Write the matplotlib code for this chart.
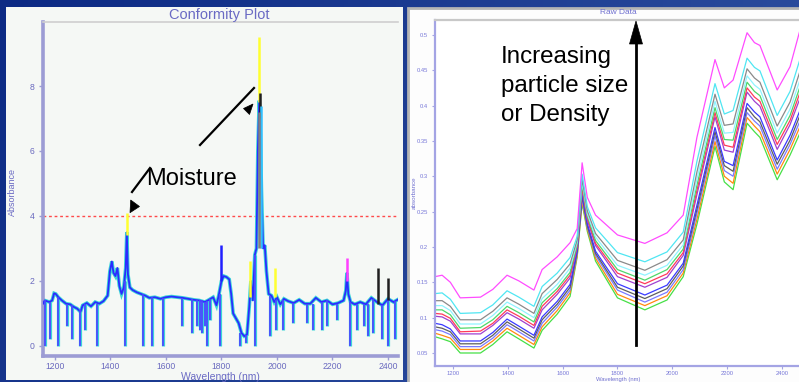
import matplotlib
matplotlib.use("Agg")
import matplotlib.pyplot as plt
import numpy as np
from matplotlib.patches import Rectangle, Polygon
from matplotlib.lines import Line2D

plt.rcParams['font.family'] = ['Liberation Sans', 'DejaVu Sans']

# ---------------- data: left panel (Conformity Plot) ----------------
conf_wl = [1157, 1163, 1170, 1180, 1190, 1197, 1203, 1212, 1225, 1240, 1255, 1268, 1280, 1292,
           1300, 1315, 1330, 1345, 1360, 1375, 1390, 1398, 1405, 1411, 1418, 1425, 1432, 1440,
           1448, 1455, 1459, 1463, 1470, 1480, 1495, 1510, 1525, 1540, 1560, 1580, 1600, 1620,
           1640, 1660, 1680, 1700, 1720, 1740, 1755, 1770, 1782, 1790, 1800, 1808, 1818, 1828,
           1835, 1842, 1852, 1862, 1872, 1882, 1892, 1900, 1906, 1913, 1920, 1926, 1931, 1936,
           1940, 1944, 1950, 1956, 1962, 1970, 1980, 1990, 2000, 2012, 2025, 2040, 2060, 2080,
           2100, 2120, 2140, 2160, 2180, 2200, 2220, 2240, 2248, 2252, 2257, 2265, 2280, 2300,
           2320, 2340, 2360, 2380, 2400, 2420, 2440]
conf_abs = [1.30, 1.40, 1.38, 1.35, 1.40, 1.62, 1.60, 1.50, 1.40, 1.30, 1.28, 1.20, 1.15, 1.05,
            1.25, 1.32, 1.22, 1.35, 1.30, 1.38, 1.55, 2.30, 2.60, 2.25, 2.15, 2.40, 1.85, 1.60,
            1.80, 2.40, 3.50, 2.20, 1.80, 1.72, 1.65, 1.60, 1.55, 1.48, 1.50, 1.45, 1.50, 1.52,
            1.50, 1.48, 1.45, 1.42, 1.40, 1.35, 1.42, 1.50, 1.25, 1.55, 2.00, 2.15, 2.12, 2.05,
            1.60, 1.00, 0.85, 0.70, 0.40, 0.30, 0.35, 1.20, 2.00, 1.40, 2.80, 3.00, 6.00, 7.55,
            6.50, 4.80, 3.00, 3.10, 2.30, 1.60, 1.55, 1.35, 1.50, 1.28, 1.45, 1.38, 1.32, 1.42,
            1.30, 1.30, 1.48, 1.35, 1.40, 1.28, 1.32, 1.40, 1.70, 2.25, 1.60, 1.35, 1.28, 1.35,
            1.28, 1.48, 1.35, 1.25, 1.45, 1.35, 1.45]

spike_wl = [1164, 1182, 1211, 1245, 1262, 1290, 1308, 1351, 1452, 1517,
            1550, 1589, 1658, 1694, 1712, 1723, 1731, 1740, 1748, 1760,
            1795, 1867, 1888, 1921, 1976, 1995, 2022, 2058, 2108, 2130,
            2162, 2180, 2215, 2263, 2290, 2312, 2328, 2345, 2380, 2400, 2425]
spike_lo = [0.0, 0.2, 0.0, 0.6, 0.2, 0.0, 0.5, 0.0, 0.0, 0.0,
            0.0, 0.0, 0.6, 0.4, 0.6, 0.5, 0.4, 0.6, 0.0, 0.8,
            0.0, 0.0, 0.1, 0.0, 0.3, 0.5, 0.5, 0.7, 0.7, 0.5,
            0.5, 0.6, 0.8, 0.0, 0.5, 0.6, 0.3, 0.4, 0.2, 0.0, 0.2]
spike_hi = [1.40, 1.36, 1.50, 1.30, 1.25, 1.10, 1.30, 1.30, 2.00, 1.60,
            1.50, 1.48, 1.48, 1.45, 1.42, 1.41, 1.40, 1.35, 1.38, 1.45,
            1.60, 0.40, 0.35, 2.80, 1.55, 1.40, 1.40, 1.32, 1.30, 1.30,
            1.35, 1.40, 1.30, 1.35, 1.30, 1.30, 1.30, 1.45, 1.25, 1.45, 1.38]

# coloured sample tips poking out of the bundle
tip_wl = [1459, 1937, 1939, 1797, 1903, 1993, 2252, 2364, 2400, 1941, 1934]
tip_lo = [3.40, 7.50, 7.00, 2.00, 1.50, 1.50, 2.00, 1.30, 1.40, 3.00, 3.00]
tip_hi = [4.10, 9.50, 7.80, 3.10, 2.60, 2.40, 2.70, 2.40, 2.10, 7.40, 7.20]
tip_col = ['#ffff30', '#ffff30', '#202020', '#2020ff', '#ffff30', '#ffff30',
           '#ff40ff', '#202020', '#202020', '#30c0ff', '#808080']

threshold = 4.0

# ---------------- data: right panel (Raw Data) ----------------
raw_wl = [1134, 1160, 1190, 1226, 1300, 1345, 1397, 1440, 1495, 1525, 1580, 1627, 1653, 1671, 1690,
          1720, 1800, 1900, 1981, 2040, 2090, 2156, 2190, 2222, 2273, 2300, 2320, 2383, 2430, 2465]
raw_magenta = [.158, .160, .150, .128, .129, .140, .160, .152, .139, .168, .186, .206, .226, .319, .270,
               .245, .217, .205, .220, .245, .355, .465, .425, .436, .503, .489, .485, .422, .455, .505]
raw_cyan = [.134, .135, .126, .106, .107, .118, .138, .129, .116, .144, .163, .185, .215, .303, .257,
            .227, .192, .179, .193, .221, .321, .431, .388, .393, .467, .454, .449, .386, .420, .464]
raw_gray = [.124, .124, .116, .097, .097, .109, .128, .119, .106, .134, .154, .176, .210, .296, .251,
            .219, .181, .167, .182, .210, .306, .416, .372, .374, .452, .439, .433, .371, .405, .447]
raw_ltcyan = [.117, .117, .110, .091, .091, .103, .122, .113, .100, .127, .147, .170, .207, .292, .247,
              .214, .174, .160, .174, .203, .296, .406, .361, .362, .442, .429, .423, .361, .395, .435]
raw_green2 = [.111, .111, .104, .085, .086, .097, .116, .107, .094, .121, .141, .164, .204, .288, .244,
              .209, .168, .153, .168, .197, .287, .397, .352, .351, .433, .420, .414, .352, .386, .425]
raw_red = [.106, .105, .099, .080, .081, .092, .111, .102, .089, .116, .137, .160, .202, .284, .241,
           .205, .163, .148, .162, .192, .280, .390, .344, .341, .425, .412, .406, .345, .379, .417]
raw_purple = [.102, .101, .095, .077, .077, .089, .107, .098, .085, .111, .133, .156, .200, .281, .238,
              .202, .158, .143, .157, .188, .274, .384, .337, .334, .419, .406, .399, .338, .373, .409]
raw_blue = [.092, .090, .084, .067, .067, .079, .098, .088, .075, .101, .123, .147, .195, .275, .233,
            .194, .148, .132, .146, .177, .259, .369, .321, .315, .403, .391, .384, .323, .358, .392]
raw_dkgray = [.087, .085, .080, .063, .063, .075, .094, .084, .071, .097, .119, .143, .193, .272, .230,
              .191, .143, .127, .141, .173, .253, .363, .315, .307, .397, .384, .377, .317, .351, .385]
raw_slate = [.083, .081, .076, .059, .059, .071, .090, .080, .067, .092, .115, .139, .191, .269, .228,
             .188, .139, .122, .136, .168, .247, .357, .308, .300, .390, .378, .371, .310, .345, .377]
raw_orange = [.078, .075, .071, .055, .055, .067, .085, .075, .062, .087, .110, .135, .188, .265, .225,
              .184, .133, .117, .131, .163, .239, .349, .300, .290, .383, .371, .363, .303, .338, .369]
raw_green = [.073, .070, .066, .050, .050, .062, .080, .070, .057, .082, .105, .130, .186, .262, .222,
             .180, .128, .111, .125, .158, .232, .342, .292, .281, .375, .363, .355, .295, .330, .360]

raw_series = [raw_magenta, raw_cyan, raw_gray, raw_ltcyan, raw_green2, raw_red, raw_purple,
              raw_blue, raw_dkgray, raw_slate, raw_orange, raw_green]
raw_colors = ['#ff4cff', '#4fe6f2', '#8a8a8a', '#8ff4ff', '#4ed86a', '#ff3a5a', '#a040d0',
              '#3a3aff', '#5e5e5e', '#7a7aff', '#ff8a10', '#46e046']

left_xticks = [1200, 1400, 1600, 1800, 2000, 2200, 2400]
left_yticks = [0, 2, 4, 6, 8]
right_xticks = [1200, 1400, 1600, 1800, 2000, 2200, 2400]
right_yticks = [0.05, 0.1, 0.15, 0.2, 0.25, 0.3, 0.35, 0.4, 0.45, 0.5]
right_ytick_labels = ['0.05', '0.1', '0.15', '0.2', '0.25', '0.3', '0.35', '0.4', '0.45', '0.5']

# ---------------- figure ----------------
W, H = 799, 382
fig = plt.figure(figsize=(W / 100, H / 100), dpi=100)


def fx(x):
    return x / W


def fy(y):
    return 1 - y / H


# blue gradient slide background
bg = fig.add_axes([0, 0, 1, 1], zorder=0)
bg.axis('off')
gx = np.linspace(0, 1, 200)[None, :]
gy = np.linspace(0, 1, 100)[:, None]
c0 = np.array([0x0c, 0x2a, 0x84]) / 255.0
c1 = np.array([0x34, 0x55, 0xa4]) / 255.0
t = np.clip(0.75 * gx + 0.25 * gy, 0, 1)[..., None]
grad = c0 * (1 - t) + c1 * t
bg.imshow(grad, aspect='auto', extent=[0, 1, 0, 1], origin='upper')
bg.set_xlim(0, 1)
bg.set_ylim(0, 1)

# panels
fig.add_artist(Rectangle((fx(6), fy(380)), (403 - 6) / W, (380 - 7) / H, transform=fig.transFigure,
                         facecolor='#f5f8f5', edgecolor='none', zorder=1))
fig.add_artist(Rectangle((fx(408), fy(384)), (820 - 408) / W, (384 - 8) / H, transform=fig.transFigure,
                         facecolor='#fdfdfd', edgecolor='#b4b4b4', lw=2.0, zorder=1))

# ---------- left axes ----------
ax1 = fig.add_axes([fx(43), fy(356), (398 - 43) / W, (356 - 22) / H], zorder=3)
ax1.set_facecolor('#f5f8f5')
ax1.set_xlim(1157, 2436)
ax1.set_ylim(-0.31, 9.97)
for s in ['left', 'bottom']:
    ax1.spines[s].set_color('#9c9cd4')
    ax1.spines[s].set_linewidth(2.6)
ax1.spines['top'].set_color('#cfcfcf')
ax1.spines['top'].set_linewidth(1.2)
ax1.spines['right'].set_visible(False)
ax1.set_xticks(left_xticks)
ax1.set_yticks(left_yticks)
ax1.tick_params(colors='#9c9cd4', labelcolor='#6a6abf', labelsize=6.2, length=3, width=1, pad=3)
ax1.tick_params(axis='x', pad=1.2)

ax1.axhline(threshold, color='#ff4a4a', lw=1.0, ls=(0, (2, 2)), zorder=1)
ax1.plot(conf_wl, conf_abs, color='#3ad6d6', lw=2.6, zorder=2, solid_joinstyle='miter')
ax1.vlines(spike_wl, spike_lo, spike_hi, colors='#3ad6d6', lw=2.3, zorder=2)
ax1.plot(conf_wl, conf_abs, color='#2b2bff', lw=1.3, zorder=3)
ax1.vlines(spike_wl, spike_lo, spike_hi, colors='#4a4aff', lw=1.3, zorder=3)
ax1.vlines(tip_wl, tip_lo, tip_hi, colors=tip_col, lw=1.8, zorder=4)

fig.text(fx(219), fy(15), 'Conformity Plot', fontsize=10.5, color='#6a6ac4', ha='center', va='center', zorder=5)
fig.text(fx(220), fy(377), 'Wavelength (nm)', fontsize=7.5, color='#6a6ac4', ha='center', va='center', zorder=5)
fig.text(fx(12), fy(192), 'Absorbance', fontsize=6.5, color='#6a6ac4', ha='center', va='center',
         rotation=90, zorder=5)

# ---------- right axes ----------
ax2 = fig.add_axes([fx(435), fy(366), (815 - 435) / W, (366 - 20) / H], zorder=3)
ax2.set_facecolor('#ffffff')
ax2.set_xlim(1134, 2521)
ax2.set_ylim(0.0316, 0.521)
for s in ['left', 'bottom']:
    ax2.spines[s].set_color('#a4a4e4')
    ax2.spines[s].set_linewidth(1.6)
ax2.spines['top'].set_color('#c8c8c8')
ax2.spines['top'].set_linewidth(1.6)
ax2.spines['right'].set_visible(False)
ax2.set_xticks(right_xticks)
ax2.set_yticks(right_yticks)
ax2.set_yticklabels(right_ytick_labels)
ax2.tick_params(colors='#a4a4e4', labelcolor='#7878d8', labelsize=4.2, length=2.5, width=0.8, pad=2.5)
ax2.tick_params(axis='x', pad=1.0)

for vals, col in zip(raw_series[::-1], raw_colors[::-1]):
    ax2.plot(raw_wl, vals, color=col, lw=0.9, zorder=2)

fig.text(fx(618), fy(13), 'Raw Data', fontsize=6, color='#7070d0', ha='center', va='center', zorder=5)
fig.text(fx(618), fy(379), 'Wavelength (nm)', fontsize=4.2, color='#7070d0', ha='center', va='center', zorder=5)
fig.text(fx(414), fy(193), 'absorbance', fontsize=4.5, color='#7070d0', ha='center', va='center',
         rotation=90, zorder=5)

# ---------- slide annotations ----------
fig.text(fx(146), fy(185), 'Moisture', fontsize=17, color='black', ha='left', va='baseline', zorder=6)
fig.add_artist(Line2D([fx(150), fx(132)], [fy(168), fy(192)], transform=fig.transFigure,
                      color='black', lw=1.6, zorder=6))
fig.add_artist(Polygon([(fx(130.7), fy(200)), (fx(130), fy(212.7)), (fx(139.5), fy(206.5))],
                       closed=True, transform=fig.transFigure, facecolor='black', edgecolor='black',
                       lw=0.5, zorder=6))
fig.add_artist(Line2D([fx(200), fx(254)], [fy(145), fy(88)], transform=fig.transFigure,
                      color='black', lw=1.6, zorder=6))
fig.add_artist(Polygon([(fx(253), fy(104)), (fx(243.5), fy(108.5)), (fx(249.5), fy(114.5))],
                       closed=True, transform=fig.transFigure, facecolor='black', edgecolor='black',
                       lw=0.5, zorder=6))

fig.text(fx(501), fy(63), 'Increasing', fontsize=17.4, color='black', ha='left', va='baseline', zorder=6)
fig.text(fx(501), fy(92), 'particle size', fontsize=17.4, color='black', ha='left', va='baseline', zorder=6)
fig.text(fx(501), fy(121), 'or Density', fontsize=17.4, color='black', ha='left', va='baseline', zorder=6)
fig.add_artist(Line2D([fx(636), fx(636)], [fy(345), fy(40)], transform=fig.transFigure,
                      color='black', lw=2.0, zorder=6))
fig.add_artist(Polygon([(fx(636), fy(21)), (fx(629.5), fy(44)), (fx(642.5), fy(44))],
                       closed=True, transform=fig.transFigure, facecolor='black', edgecolor='black',
                       lw=0.5, zorder=6))

fig.savefig('out.png', dpi=100)
